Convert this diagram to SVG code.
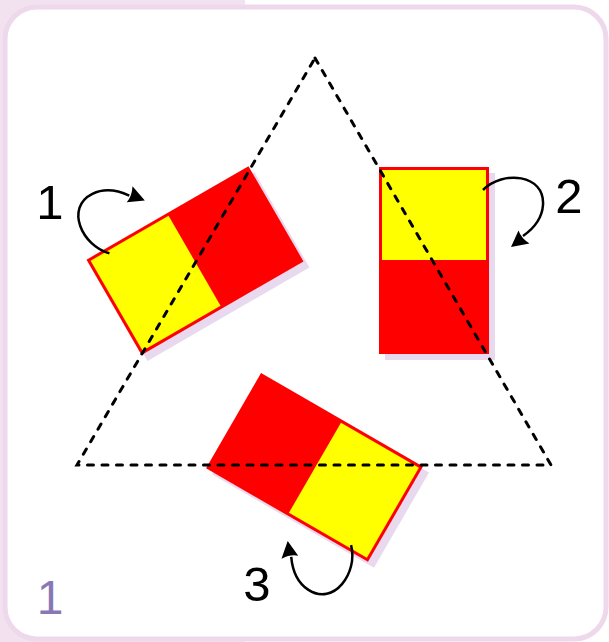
<svg xmlns="http://www.w3.org/2000/svg" xmlns:xlink="http://www.w3.org/1999/xlink" width="609" height="642" viewBox="0 0 609 642">
  <style>
    .tri { fill: none; stroke: #000; stroke-width: 3; stroke-dasharray: 6 8.5; stroke-linecap: round; }
    .arc { fill: none; stroke: #000; stroke-width: 2.5; }
    .head { fill: #000; }
    .lbl { font-family: "Liberation Sans", Arial, sans-serif; font-size: 49px; fill: #000; text-anchor: middle; }
    .pg { font-family: "Liberation Sans", Arial, sans-serif; font-size: 48px; fill: #8878b6; text-anchor: middle; }
    .shadow { fill: #e8d9ef; }
  </style>
  <defs>
    <rect id="sh" class="shadow" x="379" y="167" width="110" height="187"/>
    <g id="card">
      <rect x="379" y="167" width="110" height="187" fill="#ff0000"/>
      <rect x="382" y="170" width="104" height="90" fill="#ffff00"/>
    </g>
    <g id="arrow">
      <path class="arc" d="M483,190 C503,170 545,174 543,205 C542,220 533,229 523,236"/>
      <path class="head" d="M511,247 L518.5,230.5 Q521,238 529.5,243.5 Z"/>
    </g>
  </defs>

  <g id="background">
    <rect x="0" y="0" width="245" height="642" fill="#f2e2f0"/>
    <rect x="5" y="7" width="601" height="632" rx="32" ry="32" fill="#ffffff" stroke="#eed8ec" stroke-width="5"/>
  </g>

  <g id="node-1">
    <use xlink:href="#sh" href="#sh" transform="translate(6,6) rotate(240 314.5 329.5)"/>
    <use xlink:href="#card" href="#card" transform="rotate(240 314.5 329.5)"/>
  </g>
  <g id="node-2">
    <use xlink:href="#sh" href="#sh" transform="translate(6,6)"/>
    <use xlink:href="#card" href="#card"/>
  </g>
  <g id="node-3">
    <use xlink:href="#sh" href="#sh" transform="translate(6,6) rotate(120 314.5 329.5)"/>
    <use xlink:href="#card" href="#card" transform="rotate(120 314.5 329.5)"/>
  </g>

  <g id="connectors">
    <polygon class="tri" points="315,58 551,465 77,465"/>
    <use xlink:href="#arrow" href="#arrow" transform="rotate(240 314.5 329.5)"/>
    <use xlink:href="#arrow" href="#arrow"/>
    <use xlink:href="#arrow" href="#arrow" transform="rotate(120 314.5 329.5)"/>
  </g>

  <g id="labels">
    <text class="lbl" x="50" y="219">1</text>
    <text class="lbl" x="569" y="213">2</text>
    <text class="lbl" x="257" y="601">3</text>
    <text class="pg" x="50" y="614">1</text>
  </g>
</svg>
